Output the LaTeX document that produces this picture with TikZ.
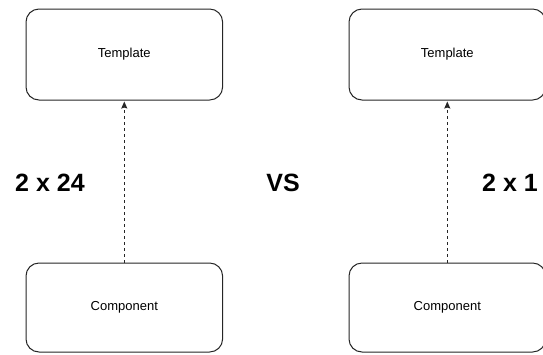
\documentclass[tikz,border=0pt]{standalone}
\usepackage{fontspec}
\setmainfont{Liberation Sans}
\usetikzlibrary{arrows.meta}
\tikzset{
  box/.style={draw=black!85, line width=1pt, rounded corners=13pt, fill=white,
    minimum width=196.6pt, minimum height=91pt, inner sep=0pt,
    font=\fontsize{13}{15}\selectfont},
  bigtext/.style={font=\fontsize{25}{28}\selectfont\bfseries, inner sep=0pt},
  link/.style={draw=black!85, line width=1pt, dash pattern=on 3pt off 3pt,
    -{Stealth[length=7pt,width=6pt,inset=1pt]}, shorten >=1pt},
}
\begin{document}
\begin{tikzpicture}[x=1pt,y=-1pt]
  \useasboundingbox (0,0) rectangle (543,354);
  \clip (0,0) rectangle (543,354);
  % left pair
  \node[box] (tplA) at (124.3,54.5) {Template};
  \node[box, minimum height=89pt] (cmpA) at (124.3,307.5) {Component};
  % right pair
  \node[box] (tplB) at (447.3,54.5) {Template};
  \node[box, minimum height=89pt] (cmpB) at (447.3,307.5) {Component};
  % dependency arrows
  \draw[link] (cmpA.north) -- (tplA.south);
  \draw[link] (cmpB.north) -- (tplB.south);
  % counts
  \node[bigtext] (countA) at (50,182.5) {2 x 24};
  \node[bigtext] (versus) at (283,182.5) {VS};
  \node[bigtext] (countB) at (510,182.5) {2 x 1};
\end{tikzpicture}
\end{document}
